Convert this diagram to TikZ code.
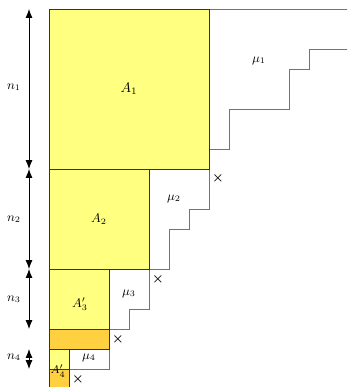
\documentclass[tikz,border=0pt]{standalone}
\usepackage{amsmath}
\usepackage{amssymb}
\usepackage[svgnames,dvipsnames]{xcolor}
\usepackage{tikz}
\usetikzlibrary{arrows.meta, positioning, calc}
\definecolor{blockyellow}{RGB}{255,255,128}
\definecolor{blockorange}{RGB}{255,208,64}

\begin{document}
\begin{tikzpicture}[
    x=0.5cm, y=-0.5cm,
    block/.style={draw=black!80, fill=blockyellow, line width=0.7pt},
    extra/.style={draw=black!80, fill=blockorange, line width=0.7pt},
    part/.style={draw=black!55, line width=0.7pt},
    dim/.style={{Latex[length=2.2mm,width=1.7mm]}-{Latex[length=2.2mm,width=1.7mm]}, line width=0.6pt},
    lbl/.style={font=\small, inner sep=1pt},
    cross/.style={font=\small, inner sep=0pt}
]
    \clip (-2.45,-0.45) rectangle (14.9,18.9);

    % staircases
    \draw[part] (8,0) -- (15,0);
    \draw[part] (8,7) -- (9,7) -- (9,5) -- (12,5) -- (12,3) -- (13,3) -- (13,2) -- (15,2);
    \draw[part] (8,8) -- (8,10) -- (7,10) -- (7,11) -- (6,11) -- (6,13) -- (5,13);
    \draw[part] (5,13) -- (5,15) -- (4,15) -- (4,16) -- (3,16);
    \draw[part] (3,17) -- (3,18) -- (1,18);

    % blocks
    \draw[block] (0,0) rectangle (8,8);
    \draw[block] (0,8) rectangle (5,13);
    \draw[block] (0,13) rectangle (3,16);
    \draw[extra] (0,16) rectangle (3,17);
    \draw[block] (0,17) rectangle (1,18);
    \draw[extra] (0,18) rectangle (1,19.5);

    \node[lbl, font=\normalsize] (a1) at (4,4) {$A_1$};
    \node[lbl] (a2) at (2.5,10.5) {$A_2$};
    \node[lbl] (a3) at (1.55,14.75) {$A'_3$};
    \node[lbl, font=\footnotesize] (a4) at (0.45,18.1) {$A'_4$};

    \node[lbl] (mu1) at (10.5,2.6) {$\mu_1$};
    \node[lbl] (mu2) at (6.25,9.5) {$\mu_2$};
    \node[lbl] (mu3) at (4,14.25) {$\mu_3$};
    \node[lbl] (mu4) at (2,17.45) {$\mu_4$};

    \node[cross] (x1) at (8.45,8.45) {$\boldsymbol{\times}$};
    \node[cross] (x2) at (5.45,13.5) {$\boldsymbol{\times}$};
    \node[cross] (x3) at (3.45,16.5) {$\boldsymbol{\times}$};
    \node[cross] (x4) at (1.45,18.5) {$\boldsymbol{\times}$};

    % heights
    \coordinate (h0) at (-1,0);
    \coordinate (h1) at (-1,8);
    \coordinate (h2) at (-1,13);
    \coordinate (h3) at (-1,16);
    \coordinate (h4) at (-1,17);
    \coordinate (h5) at (-1,18);
    \draw[dim] (h0) -- (h1);
    \draw[dim] (h1) -- (h2);
    \draw[dim] (h2) -- (h3);
    \draw[dim] (h4) -- (h5);

    \node[lbl] (n1) at (-1.75,3.9) {$n_1$};
    \node[lbl] (n2) at (-1.75,10.5) {$n_2$};
    \node[lbl] (n3) at (-1.75,14.5) {$n_3$};
    \node[lbl] (n4) at (-1.75,17.4) {$n_4$};
\end{tikzpicture}
\end{document}
